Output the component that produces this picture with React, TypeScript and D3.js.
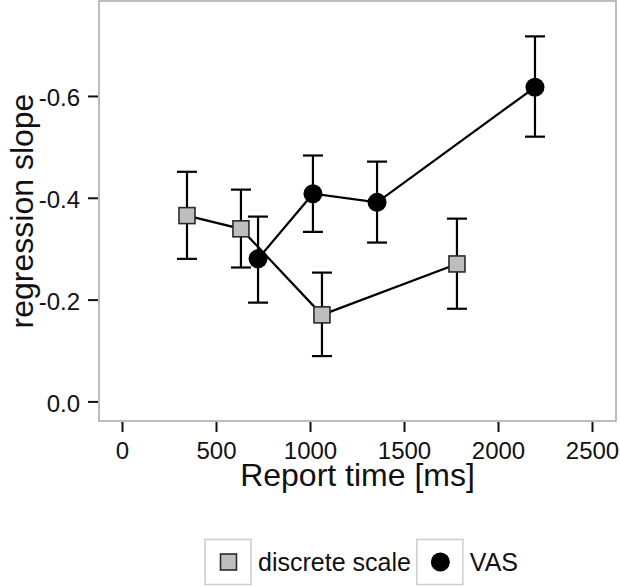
import React, { useRef, useEffect } from "react";
import * as d3 from "d3";

// discrete scale condition
const discreteTime = [343, 630, 1061, 1779];
const discreteSlope = [-0.366, -0.34, -0.171, -0.271];
const discreteLow = [-0.281, -0.264, -0.09, -0.183];
const discreteHigh = [-0.452, -0.417, -0.254, -0.36];

// VAS condition
const vasTime = [721, 1013, 1354, 2194];
const vasSlope = [-0.281, -0.409, -0.392, -0.618];
const vasLow = [-0.195, -0.334, -0.313, -0.521];
const vasHigh = [-0.364, -0.484, -0.472, -0.718];

const xTicks = [0, 500, 1000, 1500, 2000, 2500];
const yTicks = [0, -0.2, -0.4, -0.6];
const legendNames = ["discrete scale", "VAS"];

export default function App() {
  const chartRef = useRef<SVGSVGElement | null>(null);

  useEffect(() => {
    const width = 620;
    const height = 587;
    const panel = { left: 99, right: 616, top: 1, bottom: 421 };
    const font = "'Liberation Sans', Arial, sans-serif";

    const svg = d3.select(chartRef.current);
    svg.selectAll("*").remove();
    svg.attr("width", width).attr("height", height);

    const x = d3.scaleLinear().domain([-125, 2625]).range([panel.left, panel.right]);
    const y = d3.scaleLinear().domain([0.0375, -0.7875]).range([panel.bottom, panel.top]);

    // panel
    svg
      .append("rect")
      .attr("x", panel.left)
      .attr("y", panel.top)
      .attr("width", panel.right - panel.left)
      .attr("height", panel.bottom - panel.top)
      .attr("fill", "white")
      .attr("stroke", "#a8a8a8")
      .attr("stroke-width", 1.5);

    // x ticks
    const xAxis = svg.append("g");
    xTicks.forEach((t) => {
      xAxis
        .append("line")
        .attr("x1", x(t))
        .attr("x2", x(t))
        .attr("y1", panel.bottom + 1)
        .attr("y2", panel.bottom + 11)
        .attr("stroke", "#111")
        .attr("stroke-width", 2);
      xAxis
        .append("text")
        .attr("x", x(t))
        .attr("y", 459)
        .attr("text-anchor", "middle")
        .attr("font-family", font)
        .attr("font-size", 24)
        .attr("fill", "#111")
        .text(t);
    });

    // y ticks (plain hyphen as minus, like the original)
    const yAxis = svg.append("g");
    yTicks.forEach((t) => {
      yAxis
        .append("line")
        .attr("x1", 88)
        .attr("x2", panel.left - 1)
        .attr("y1", y(t))
        .attr("y2", y(t))
        .attr("stroke", "#111")
        .attr("stroke-width", 2);
      yAxis
        .append("text")
        .attr("x", 80)
        .attr("y", y(t))
        .attr("dy", "0.4em")
        .attr("text-anchor", "end")
        .attr("font-family", font)
        .attr("font-size", 24)
        .attr("fill", "#111")
        .text(t.toFixed(1));
    });

    // axis titles
    svg
      .append("text")
      .attr("x", (panel.left + panel.right) / 2)
      .attr("y", 486)
      .attr("text-anchor", "middle")
      .attr("font-family", font)
      .attr("font-size", 32)
      .attr("fill", "#111")
      .text("Report time [ms]");

    svg
      .append("text")
      .attr("transform", `translate(33, ${(panel.top + panel.bottom) / 2}) rotate(-90)`)
      .attr("text-anchor", "middle")
      .attr("font-family", font)
      .attr("font-size", 32)
      .attr("fill", "#111")
      .text("regression slope");

    const drawMarker = (g: any, cx: number, cy: number, shape: string) => {
      if (shape === "square") {
        g.append("rect")
          .attr("x", cx - 8)
          .attr("y", cy - 8)
          .attr("width", 16)
          .attr("height", 16)
          .attr("fill", "#bebebe")
          .attr("stroke", "#2a2a2a")
          .attr("stroke-width", 1.6);
      } else {
        g.append("circle")
          .attr("cx", cx)
          .attr("cy", cy)
          .attr("r", 9.5)
          .attr("fill", "#000");
      }
    };

    const drawSeries = (times: number[], vals: number[], lo: number[], hi: number[], shape: string) => {
      const g = svg.append("g");
      const pts: [number, number][] = times.map((t, i) => [x(t), y(vals[i])]);
      g.append("path")
        .attr("d", d3.line()(pts))
        .attr("fill", "none")
        .attr("stroke", "#000")
        .attr("stroke-width", 2.2);

      // error bars
      times.forEach((t, i) => {
        const cx = x(t);
        const eb = g.append("g").attr("stroke", "#000").attr("stroke-width", 2.2);
        eb.append("line").attr("x1", cx).attr("x2", cx).attr("y1", y(lo[i])).attr("y2", y(hi[i]));
        eb.append("line").attr("x1", cx - 10).attr("x2", cx + 10).attr("y1", y(lo[i])).attr("y2", y(lo[i]));
        eb.append("line").attr("x1", cx - 10).attr("x2", cx + 10).attr("y1", y(hi[i])).attr("y2", y(hi[i]));
      });

      // points
      times.forEach((t, i) => {
        drawMarker(g, x(t), y(vals[i]), shape);
      });
    };

    drawSeries(discreteTime, discreteSlope, discreteLow, discreteHigh, "square");
    drawSeries(vasTime, vasSlope, vasLow, vasHigh, "circle");

    // legend
    const legend = svg.append("g");
    let lx = 205;
    const shapes = ["square", "circle"];
    legendNames.forEach((name, i) => {
      legend
        .append("rect")
        .attr("x", lx)
        .attr("y", 539.5)
        .attr("width", 46)
        .attr("height", 45)
        .attr("fill", "white")
        .attr("stroke", "#cccccc")
        .attr("stroke-width", 1.5);
      drawMarker(legend, lx + 23.5, 562, shapes[i]);
      const txt = legend
        .append("text")
        .attr("x", lx + 53)
        .attr("y", 562)
        .attr("dy", "0.36em")
        .attr("font-family", font)
        .attr("font-size", 25)
        .attr("fill", "#111")
        .text(name);
      const w = (txt.node() as SVGTextElement).getComputedTextLength();
      lx = lx + 53 + w + 6;
    });
  }, []);

  return (
    <div style={{ position: "absolute", left: 0, top: 0 }}>
      <svg ref={chartRef} style={{ display: "block" }} />
    </div>
  );
}
